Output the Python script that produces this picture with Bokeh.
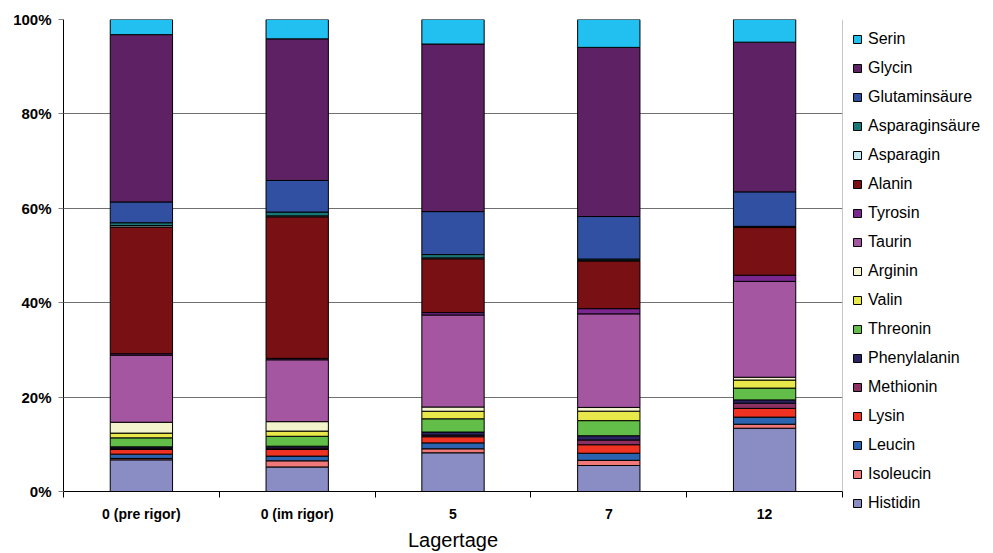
from bokeh.plotting import figure
from bokeh.models import (ColumnDataSource, Legend, LegendItem, FixedTicker,
                          PrintfTickFormatter, Range1d, Span)
from bokeh.embed import file_html
from bokeh.resources import INLINE

categories = ["0 (pre rigor)", "0 (im rigor)", "5", "7", "12"]

# amino acid shares (%) per storage day, bottom to top of stack
histidin = [6.7, 5.2, 8.2, 5.5, 13.4]
isoleucin = [0.3, 1.3, 0.85, 1.1, 0.85]
leucin = [0.9, 1.0, 1.25, 1.5, 1.5]
lysin = [1.0, 1.4, 1.3, 1.8, 1.85]
methionin = [0.25, 0.3, 0.35, 1.0, 1.1]
phenylalanin = [0.3, 0.4, 0.65, 0.9, 0.7]
threonin = [1.9, 2.1, 2.8, 3.2, 2.5]
valin = [1.0, 1.1, 1.6, 2.0, 1.7]
arginin = [2.3, 2.0, 0.9, 0.8, 0.6]
taurin = [14.2, 13.1, 19.5, 19.8, 20.3]
tyrosin = [0.3, 0.3, 0.5, 1.1, 1.3]
alanin = [26.8, 30.0, 11.4, 10.1, 10.1]
asparagin = [0.3, 0.2, 0.2, 0.15, 0.1]
asparaginsaeure = [0.6, 0.8, 0.7, 0.25, 0.15]
glutaminsaeure = [4.4, 6.7, 9.1, 9.0, 7.3]
glycin = [35.4, 30.0, 35.5, 35.8, 31.7]
serin = [3.2, 4.1, 5.2, 5.9, 4.8]

series_names = ["Histidin", "Isoleucin", "Leucin", "Lysin", "Methionin",
                "Phenylalanin", "Threonin", "Valin", "Arginin", "Taurin",
                "Tyrosin", "Alanin", "Asparagin", "Asparaginsäure",
                "Glutaminsäure", "Glycin", "Serin"]
series_values = [histidin, isoleucin, leucin, lysin, methionin, phenylalanin,
                 threonin, valin, arginin, taurin, tyrosin, alanin, asparagin,
                 asparaginsaeure, glutaminsaeure, glycin, serin]
colors = ["#8A8CC4", "#F07878", "#2A64B0", "#F03222", "#8A3062",
          "#2A2462", "#62BE48", "#E8E84A", "#F4F4CC", "#A556A0",
          "#7C2690", "#781014", "#C4E6EE", "#187878", "#3250A2",
          "#5E2264", "#22C0F0"]

x_pos = [i + 0.5 for i in range(len(categories))]
totals = [sum(v[i] for v in series_values) for i in range(len(categories))]
data = {"x": x_pos}
for name, vals in zip(series_names, series_values):
    data[name] = [v / t * 100.0 for v, t in zip(vals, totals)]
src = ColumnDataSource(data)

FONT = "Liberation Sans"

p = figure(width=993, height=553, frame_width=779, frame_height=472,
           x_range=Range1d(0, 5), y_range=Range1d(0, 100),
           output_backend="svg", toolbar_location=None,
           min_border_left=63, min_border_right=151, min_border_top=19,
           min_border_bottom=62)
p.outline_line_color = None
p.background_fill_color = "white"
p.border_fill_color = "white"

renderers = p.vbar_stack(series_names, x="x", width=0.4, source=src,
                         fill_color=colors, line_color="black", line_width=1)

# x axis
xa = p.xaxis[0]
xa.ticker = FixedTicker(ticks=x_pos, minor_ticks=[0, 1, 2, 3, 4, 5])
xa.major_label_overrides = {x: c for x, c in zip(x_pos, categories)}
xa.major_tick_line_color = None
xa.major_tick_out = 6
xa.minor_tick_in = 0
xa.minor_tick_out = 6
xa.minor_tick_line_color = "black"
xa.axis_line_color = "black"
xa.major_label_standoff = 8
xa.major_label_text_font = FONT
xa.major_label_text_font_style = "bold"
xa.major_label_text_font_size = "14px"
xa.major_label_text_color = "black"
xa.axis_label = "Lagertage"
xa.axis_label_text_font = FONT
xa.axis_label_text_font_style = "normal"
xa.axis_label_text_font_size = "20px"
xa.axis_label_text_color = "black"
xa.axis_label_standoff = 4

# y axis
ya = p.yaxis[0]
ya.ticker = FixedTicker(ticks=[0, 20, 40, 60, 80, 100])
ya.formatter = PrintfTickFormatter(format="%d%%")
ya.major_tick_in = 0
ya.major_tick_out = 5
ya.major_tick_line_color = "#808080"
ya.minor_tick_line_color = None
ya.axis_line_color = "black"
ya.major_label_standoff = 7
ya.major_label_text_font = FONT
ya.major_label_text_font_style = "bold"
ya.major_label_text_font_size = "15px"
ya.major_label_text_color = "black"

p.xgrid.grid_line_color = None
p.ygrid.ticker = FixedTicker(ticks=[20, 40, 60, 80])
p.ygrid.grid_line_color = "#707070"
p.ygrid.grid_line_width = 1

p.add_layout(Span(location=5, dimension="height", line_color="#909090", line_width=1))

items = [LegendItem(label=n, renderers=[r])
         for n, r in reversed(list(zip(series_names, renderers)))]
legend = Legend(items=items, location="top_left", orientation="vertical",
                label_text_font=FONT, label_text_font_size="16px",
                label_text_color="black",
                glyph_width=10, glyph_height=10, label_height=20, spacing=9,
                label_standoff=6, padding=4, margin=10,
                border_line_color=None, background_fill_alpha=0)
p.add_layout(legend, "right")

open("out.html", "w").write(file_html(p, INLINE))
